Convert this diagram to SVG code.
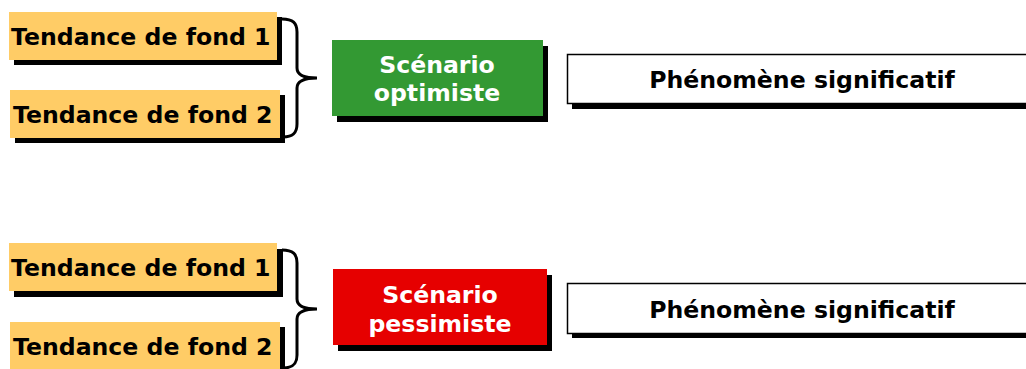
<svg xmlns="http://www.w3.org/2000/svg" width="1026" height="369" viewBox="0 0 1026 369">
<style>
.sh{fill:#000}
.tf{fill:#FFCC66}
.t{font-family:"DejaVu Sans",Verdana,sans-serif;font-weight:bold;font-size:23.6px;fill:#000}
.w{font-family:"DejaVu Sans",Verdana,sans-serif;font-weight:bold;font-size:23.6px;fill:#fff;text-anchor:middle}
.pb{fill:#fff;stroke:#000;stroke-width:1.5}
.br{fill:none;stroke:#000;stroke-width:3}
</style>
<rect width="1026" height="369" fill="#fff"/>
<g id="connectors">
<path class="br" d="M 282 19 C 293 19 297 23 297 32 L 297 68 C 297 75 305 78 317 78 C 305 78 297 81 297 88 L 297 124 C 297 133 293 137 283 137"/>
<path class="br" d="M 282 250 C 293 250 297 254 297 263 L 297 299 C 297 306 305 309 317 309 C 305 309 297 312 297 319 L 297 355 C 297 364 293 368 283 368"/>
</g>
<g id="tendance1a">
<rect class="sh" x="14" y="17" width="268" height="48"/>
<rect class="tf" x="9" y="12" width="268" height="48"/>
<text class="t" x="11" y="45">Tendance de fond 1</text>
</g>
<g id="tendance2a">
<rect class="sh" x="15" y="95" width="270" height="48"/>
<rect class="tf" x="10" y="90" width="270" height="48"/>
<text class="t" x="13" y="123">Tendance de fond 2</text>
</g>
<g id="optimiste">
<rect class="sh" x="337" y="46" width="211" height="76"/>
<rect x="332" y="40" width="211" height="76" fill="#339933"/>
<text class="w" x="437" y="73">Scénario</text>
<text class="w" x="437" y="101">optimiste</text>
</g>
<g id="phenomene1">
<rect class="sh" x="572" y="59" width="460" height="50"/>
<rect class="pb" x="567.5" y="54.5" width="460" height="49"/>
<text class="t" x="802" y="88" text-anchor="middle">Phénomène significatif</text>
</g>
<g id="tendance1b">
<rect class="sh" x="14" y="249" width="269" height="48"/>
<rect class="tf" x="9" y="243" width="268" height="48"/>
<text class="t" x="11" y="276">Tendance de fond 1</text>
</g>
<g id="tendance2b">
<rect class="sh" x="15" y="327" width="270" height="48"/>
<rect class="tf" x="10" y="322" width="270" height="48"/>
<text class="t" x="13" y="355">Tendance de fond 2</text>
</g>
<g id="pessimiste">
<rect class="sh" x="338" y="275" width="214" height="76"/>
<rect x="333" y="269" width="214" height="76" fill="#E60000"/>
<text class="w" x="440" y="303">Scénario</text>
<text class="w" x="440" y="332">pessimiste</text>
</g>
<g id="phenomene2">
<rect class="sh" x="572" y="288" width="460" height="50"/>
<rect class="pb" x="567.5" y="283.5" width="460" height="50"/>
<text class="t" x="802" y="318" text-anchor="middle">Phénomène significatif</text>
</g>
</svg>
